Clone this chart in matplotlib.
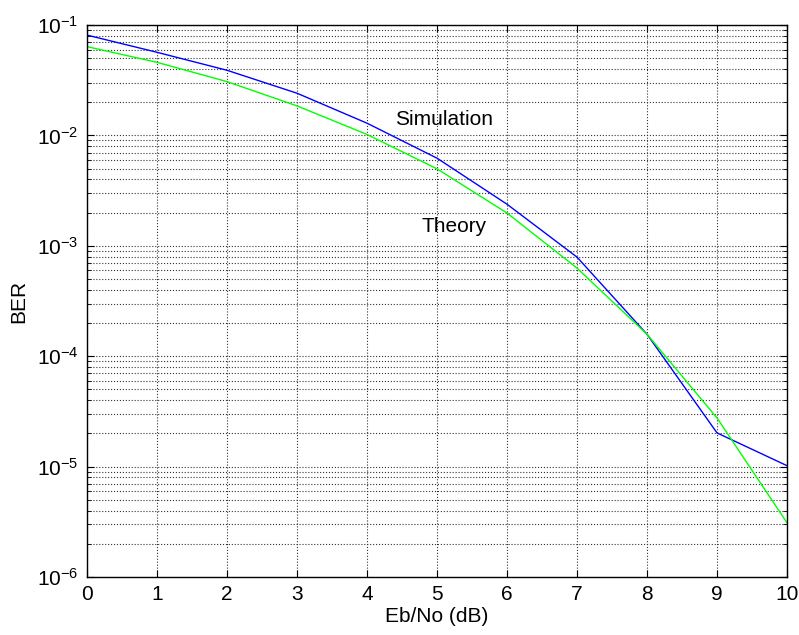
import matplotlib
matplotlib.use("Agg")
import matplotlib.pyplot as plt
from matplotlib.ticker import LogLocator, NullFormatter

plt.rcParams['font.family'] = ['Liberation Sans', 'DejaVu Sans']
plt.rcParams['mathtext.fontset'] = 'custom'
plt.rcParams['mathtext.rm'] = 'Liberation Sans'
plt.rcParams['mathtext.it'] = 'Liberation Sans:italic'
plt.rcParams['mathtext.bf'] = 'Liberation Sans:bold'

ebno_db = [0, 1, 2, 3, 4, 5, 6, 7, 8, 9, 10]
ber_sim = [0.081, 0.0566, 0.0389, 0.0241, 0.0129, 0.00622, 0.00238,
           7.9e-4, 1.58e-4, 2.02e-5, 1.02e-5]
ber_theory = [0.0637, 0.0459, 0.0307, 0.0185, 0.0102, 0.00498, 0.00198,
              6.28e-4, 1.58e-4, 2.76e-5, 3.1e-6]

fig = plt.figure(figsize=(7.99, 6.35), dpi=100)
ax = fig.add_axes([0.109, 0.0913, 0.876, 0.8693])

ax.semilogy(ebno_db, ber_sim, color='#0000ff', lw=1)
ax.semilogy(ebno_db, ber_theory, color='#00ff00', lw=1)

ax.text(4.4, 0.0138, 'Simulation', fontsize=15, va='center', ha='left')
ax.text(4.78, 0.0015, 'Theory', fontsize=15, va='center', ha='left')

ax.set_xlim(0, 10)
ax.set_ylim(1e-6, 1e-1)
ax.set_xticks(range(0, 11))
ax.yaxis.set_major_locator(LogLocator(base=10, numticks=10))
ax.yaxis.set_minor_locator(LogLocator(base=10, subs=range(2, 10), numticks=20))
ax.yaxis.set_minor_formatter(NullFormatter())

ax.grid(True, which='major', linestyle=':', color='#333333', lw=0.8)
ax.grid(True, which='minor', axis='y', linestyle=':', color='#333333', lw=0.8)
ax.tick_params(which='both', direction='in', top=True, right=True)
ax.tick_params(axis='x', labelsize=15, pad=6)
ax.tick_params(axis='y', labelsize=15, pad=6)
ax.tick_params(which='major', length=5)
ax.tick_params(which='minor', length=3)
for s in ax.spines.values():
    s.set_linewidth(1)

ax.set_xlabel('Eb/No (dB)', fontsize=15, labelpad=2)
ax.set_ylabel('BER', fontsize=15, labelpad=6)

fig.savefig('out.png', dpi=100)
